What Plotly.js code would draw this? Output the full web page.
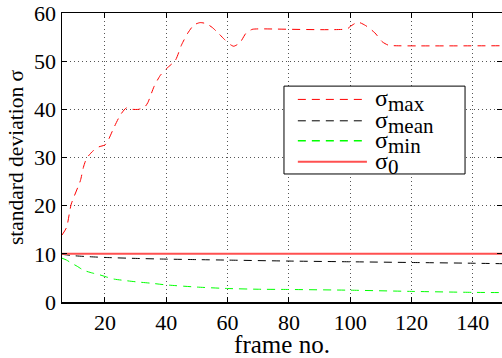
<!DOCTYPE html>
<html><head><meta charset="utf-8">
<script src="https://cdn.plot.ly/plotly-3.0.1.min.js"></script>
<style>html,body{margin:0;padding:0;background:#fff}</style>
</head><body><div id="chart" style="width:502px;height:358px"></div>
<script>
// sigma_max
var maxFrames = [6,7.5,9,12,13,14,16,18,20,21,23,25,27,29,31,33,34,36,38,40,43,45,47,49,51,53,55,57,59,61,62,64,66,68,70,99,100,102.5,105,108,110.5,112.5,115,150];
var maxValues = [13.9,15.5,20.3,25.2,28,29.8,31.3,32.2,32.6,33.5,36.3,38.8,40.3,40.0,40.0,40.5,41.4,44.7,47,48.4,50.2,53.4,55.8,57.5,58.0,57.8,57.0,55.8,54.5,53.4,53.1,53.8,55.8,56.6,56.7,56.7,57.2,58.1,57.4,55.9,54.0,53.3,53.2,53.2];
// sigma_mean
var meanFrames = [6,10,15,20,30,40,50,60,80,100,120,140,150];
var meanValues = [9.9,9.6,9.4,9.25,9.05,8.9,8.8,8.7,8.5,8.35,8.2,8.05,7.95];
// sigma_min
var minFrames = [6,7.5,9,11,13,16,18,21,23,26,30,35,40,50,60,70,80,100,120,140,150];
var minValues = [9.1,8.7,8.1,7.4,6.6,6.0,5.7,5.1,4.75,4.5,4.2,3.9,3.55,3.1,2.8,2.65,2.6,2.45,2.2,2.0,1.95];
// sigma_0
var zeroFrames = [6,150];
var zeroValues = [10,10];

var xTicks = [20,40,60,80,100,120,140];
var yTicks = [0,10,20,30,40,50,60];
var legendLabels = ['max','mean','min','0'];

var dashPat = '8px,6px';
var traces = [
  {x:maxFrames,y:maxValues,mode:'lines',line:{color:'#ff0000',width:1,dash:dashPat,shape:'spline',smoothing:0.6},name:'σmax'},
  {x:meanFrames,y:meanValues,mode:'lines',line:{color:'#000000',width:1,dash:dashPat,shape:'spline',smoothing:0.6},name:'σmean'},
  {x:minFrames,y:minValues,mode:'lines',line:{color:'#00ff00',width:1,dash:dashPat,shape:'spline',smoothing:0.6},name:'σmin'},
  {x:zeroFrames,y:zeroValues,mode:'lines',line:{color:'#ff5050',width:2},name:'σ0'}
];

var fontFam = 'Liberation Serif';
var legColors = ['#ff0000','#000000','#00ff00','#ff5050'];
var legDash = [dashPat,dashPat,dashPat,'solid'];
var legWidth = [1,1,1.5,2];
var rowY = [0.701,0.627,0.558,0.485];
var shapes = [{type:'rect',xref:'paper',yref:'paper',x0:0.5045,x1:0.916,y0:0.443,y1:0.747,line:{color:'#000',width:1},fillcolor:'#fff',layer:'above'}];
var annotations = [];
for (var i=0;i<4;i++){
  shapes.push({type:'line',xref:'paper',yref:'paper',x0:0.536,x1:0.693,y0:rowY[i],y1:rowY[i],line:{color:legColors[i],width:legWidth[i],dash:legDash[i]},layer:'above'});
  annotations.push({xref:'paper',yref:'paper',x:0.709,y:rowY[i],xanchor:'left',yanchor:'middle',yshift:1,showarrow:false,
    text:'σ',font:{family:fontFam,size:24,color:'#000'},borderpad:0});
  annotations.push({xref:'paper',yref:'paper',x:0.738,y:rowY[i],xanchor:'left',yanchor:'middle',yshift:-5,showarrow:false,
    text:legendLabels[i],font:{family:fontFam,size:21,color:'#000'},borderpad:0});
}

var layout = {
  width:502,height:358,
  margin:{l:62,r:0,t:13,b:56},
  paper_bgcolor:'#fff',plot_bgcolor:'#fff',
  showlegend:false,
  font:{family:fontFam,size:22,color:'#000'},
  xaxis:{range:[6,149.5],tickvals:xTicks,ticks:'inside',ticklen:5,tickcolor:'#000',
    showline:true,linecolor:'#000',linewidth:1.5,mirror:'ticks',
    showgrid:true,gridcolor:'#555',griddash:'1px,3px',gridwidth:1,zeroline:false,
    tickfont:{family:fontFam,size:22},
    title:{text:'frame no.',font:{family:fontFam,size:25},standoff:0}},
  yaxis:{range:[0,60],tickvals:yTicks,ticks:'inside',ticklen:5,tickcolor:'#000',
    showline:true,linecolor:'#000',linewidth:1.5,mirror:'ticks',
    showgrid:true,gridcolor:'#555',griddash:'1px,3px',gridwidth:1,zeroline:false,
    tickfont:{family:fontFam,size:22},
    title:{text:'standard deviation σ',font:{family:fontFam,size:21.5},standoff:4}},
  shapes:shapes,
  annotations:annotations
};
Plotly.newPlot('chart',traces,layout,{displayModeBar:false,staticPlot:true});
</script></body></html>
